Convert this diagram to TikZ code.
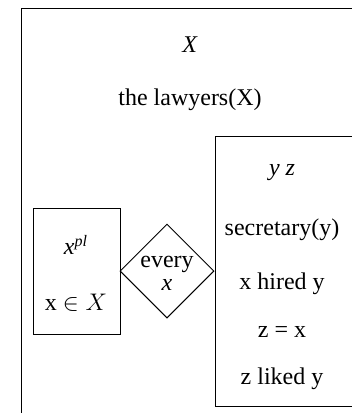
\documentclass[tikz,border=0pt]{standalone}
\usepackage{fontspec}
\setmainfont{Liberation Serif}
\usepackage{tikz}
\usetikzlibrary{shapes.geometric}

\begin{document}
\begin{tikzpicture}[x=0.5pt, y=-0.5pt, line width=0.5pt,
    every node/.style={font=\fontsize{12}{14}\selectfont},
    cond/.style={anchor=center, inner sep=0pt},
    quant/.style={draw, diamond, aspect=1, inner sep=0pt, minimum size=47pt}]
            \clip (0,0) rectangle (352,413);
            \useasboundingbox (0,0) rectangle (352,413);
            % outer box
            \draw (21,8) rectangle (400,460);
            \node[cond] (refX) at (190,45) {\textit{X}};
            \node[cond] (lawyers) at (190,100) {the lawyers(X)};
            % left box
            \draw (33,208) rectangle (120,334);
            \node[cond] (xpl) at (76,245) {\textit{x}\textsuperscript{\textit{pl}}};
            \node[cond] (xin) at (76,303) {x $\in X$};
            % quantifier
            \node[quant] (every) at (167,271) {};
            \node[cond] (everyword) at (167,264) {every};
            \node[cond] (everyvar) at (167,285) {\textit{x}};
            % right box
            \draw (215,136) rectangle (400,406);
            \node[cond] (yz) at (282,173) {\textit{y z}};
            \node[cond] (secr) at (282,230) {secretary(y)};
            \node[cond] (hired) at (282,284) {x hired y};
            \node[cond] (zx) at (282,332) {z = x};
            \node[cond] (liked) at (282,379) {z liked y};
        \end{tikzpicture}
\end{document}
